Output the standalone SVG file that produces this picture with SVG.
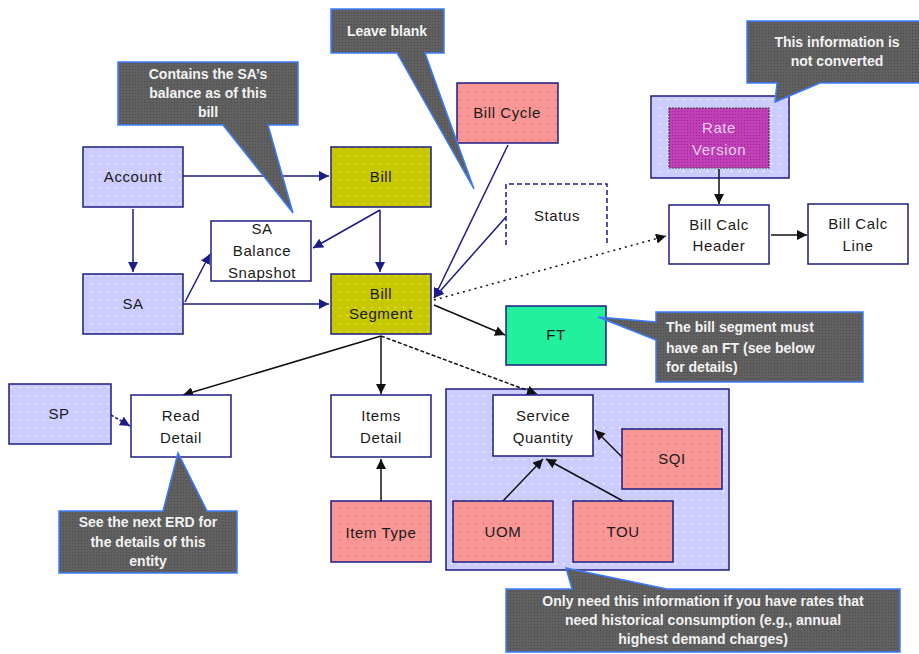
<svg xmlns="http://www.w3.org/2000/svg" width="919" height="654" viewBox="0 0 919 654">
<style>
.n{stroke:#1c1c84;stroke-width:1.5}
.lav{fill:url(#pLav)}
.olv{fill:url(#pOlv)}
.sal{fill:url(#pSal)}
.wht{fill:#ffffff}
.t{font-family:"Liberation Sans",Arial,sans-serif;font-size:15px;fill:#1a1a1a;text-anchor:middle;letter-spacing:0.6px}
.co{fill:url(#pCo);stroke:#3b7cff;stroke-width:1.5;stroke-linejoin:miter}
.ct{font-family:"Liberation Sans",Arial,sans-serif;font-size:14px;font-weight:bold;fill:#f2f2f2;text-anchor:middle}
.cn{fill:none;stroke-width:1.5}
.nv{stroke:#1c1c84}
.bk{stroke:#111111}
</style>
<defs>
<pattern id="pLav" width="8" height="8" patternUnits="userSpaceOnUse"><rect width="8" height="8" fill="#ccccff"/><rect x="3" y="3" width="1.3" height="1.3" fill="#ffffff"/></pattern>
<pattern id="pOlv" width="8" height="8" patternUnits="userSpaceOnUse"><rect width="8" height="8" fill="#c8c800"/><rect x="3" y="3" width="1.3" height="1.3" fill="#f0f060"/></pattern>
<pattern id="pSal" width="8" height="8" patternUnits="userSpaceOnUse"><rect width="8" height="8" fill="#f99797"/><rect x="3" y="3" width="1.3" height="1.3" fill="#e06a6a"/></pattern>
<pattern id="pCo" width="3" height="3" patternUnits="userSpaceOnUse"><rect width="3" height="3" fill="#606060"/><rect width="1" height="1" fill="#4a4a4a"/></pattern>
<pattern id="pMag" width="3" height="3" patternUnits="userSpaceOnUse"><rect width="3" height="3" fill="#c040b8"/><rect width="1" height="1" fill="#a02098"/></pattern>
<marker id="aN" viewBox="0 0 10 10" refX="10" refY="5" markerWidth="10" markerHeight="10" markerUnits="userSpaceOnUse" orient="auto"><path d="M0,0 L10,5 L0,10 z" fill="#1c1c84"/></marker>
<marker id="aB" viewBox="0 0 10 10" refX="10" refY="5" markerWidth="10" markerHeight="10" markerUnits="userSpaceOnUse" orient="auto"><path d="M0,0 L10,5 L0,10 z" fill="#111111"/></marker>
</defs>
<rect width="919" height="654" fill="#ffffff"/>

<!-- group containers -->
<g id="rate-version-group">
<rect x="651" y="96" width="138" height="82" class="n lav"/>
</g>
<g id="service-quantity-group">
<rect x="446" y="389" width="283" height="181" class="n lav"/>
</g>

<g id="connectors">
<path class="cn nv" d="M183,176 L329,176" marker-end="url(#aN)"/>
<path class="cn nv" d="M133,209 L133,272" marker-end="url(#aN)"/>
<path class="cn nv" d="M380,210 L313,248" marker-end="url(#aN)"/>
<path class="cn nv" d="M380,210 L380,272" marker-end="url(#aN)"/>
<path class="cn nv" d="M185,302 L210,254" marker-end="url(#aN)"/>
<path class="cn nv" d="M183,304 L329,304" marker-end="url(#aN)"/>
<path class="cn nv" d="M508,145 L434,298" marker-end="url(#aN)"/>
<path class="cn nv" d="M506,217 L434,298" marker-end="url(#aN)"/>
<path class="cn bk" d="M434,300 L666,236" stroke-dasharray="2,4" marker-end="url(#aB)"/>
<path class="cn bk" d="M434,305 L505,335" marker-end="url(#aB)"/>
<path class="cn bk" d="M381,336 L183,395" marker-end="url(#aB)"/>
<path class="cn bk" d="M381,336 L381,394" marker-end="url(#aB)"/>
<path class="cn bk" d="M381,336 L537,394" stroke-dasharray="4,2" marker-end="url(#aB)"/>
<path class="cn bk" d="M381,501 L381,459" marker-end="url(#aB)"/>
<path class="cn nv" d="M111,415 L130,426" stroke-dasharray="3,2" marker-end="url(#aN)"/>
<path class="cn bk" d="M719,169 L719,204" marker-end="url(#aB)"/>
<path class="cn bk" d="M771,235 L807,235" marker-end="url(#aB)"/>
<path class="cn bk" d="M622,457 L595,430" marker-end="url(#aB)"/>
<path class="cn bk" d="M503,501 L543,459" marker-end="url(#aB)"/>
<path class="cn bk" d="M623,501 L546,459" marker-end="url(#aB)"/>
</g>

<g id="account"><rect x="83" y="147" width="100" height="60" class="n lav"/><text class="t" x="133" y="182">Account</text></g>
<g id="bill"><rect x="331" y="147" width="100" height="60" class="n olv"/><text class="t" x="381" y="182">Bill</text></g>
<g id="sa-balance-snapshot"><rect x="211" y="221" width="100" height="60" class="n wht"/><text class="t" x="262" y="234">SA</text><text class="t" x="262" y="256">Balance</text><text class="t" x="262" y="278">Snapshot</text></g>
<g id="sa"><rect x="83" y="274" width="100" height="60" class="n lav"/><text class="t" x="133" y="309">SA</text></g>
<g id="bill-segment"><rect x="331" y="274" width="100" height="60" class="n olv"/><text class="t" x="381" y="299">Bill</text><text class="t" x="381" y="319">Segment</text></g>
<g id="bill-cycle"><rect x="457" y="83" width="101" height="60" class="n sal"/><text class="t" x="507" y="118" letter-spacing="0">Bill Cycle</text></g>
<g id="status"><path d="M506,245 L506,184 L607,184 L607,245" fill="#ffffff" stroke="#1c1c84" stroke-width="1.5" stroke-dasharray="5,3"/><text class="t" x="557" y="221">Status</text></g>
<g id="rate-version"><rect x="669" y="108" width="100" height="60" fill="url(#pMag)" stroke="#444444" stroke-width="1.2" stroke-dasharray="2,1"/><text class="t" x="719" y="133" fill="#e8c8e8" style="fill:#e8cce8">Rate</text><text class="t" x="719" y="155" style="fill:#e8cce8">Version</text></g>
<g id="bill-calc-header"><rect x="669" y="205" width="100" height="59" class="n wht"/><text class="t" x="719" y="230">Bill Calc</text><text class="t" x="719" y="251">Header</text></g>
<g id="bill-calc-line"><rect x="808" y="204" width="100" height="60" class="n wht"/><text class="t" x="858" y="229">Bill Calc</text><text class="t" x="858" y="251">Line</text></g>
<g id="ft"><rect x="506" y="306" width="100" height="59" class="n" fill="#22f09c"/><text class="t" x="556" y="340">FT</text></g>
<g id="sp"><rect x="9" y="384" width="102" height="60" class="n lav"/><text class="t" x="59" y="419">SP</text></g>
<g id="read-detail"><rect x="131" y="395" width="100" height="62" class="n wht"/><text class="t" x="181" y="421">Read</text><text class="t" x="181" y="443">Detail</text></g>
<g id="items-detail"><rect x="331" y="395" width="100" height="62" class="n wht"/><text class="t" x="381" y="421">Items</text><text class="t" x="381" y="443">Detail</text></g>
<g id="item-type"><rect x="331" y="501" width="100" height="61" class="n sal"/><text class="t" x="381" y="538" letter-spacing="0">Item Type</text></g>
<g id="service-quantity"><rect x="493" y="395" width="100" height="61" class="n wht"/><text class="t" x="543" y="421" letter-spacing="0">Service</text><text class="t" x="543" y="443" letter-spacing="0">Quantity</text></g>
<g id="sqi"><rect x="622" y="429" width="100" height="60" class="n sal"/><text class="t" x="672" y="464">SQI</text></g>
<g id="uom"><rect x="453" y="501" width="100" height="61" class="n sal"/><text class="t" x="503" y="537">UOM</text></g>
<g id="tou"><rect x="573" y="501" width="100" height="61" class="n sal"/><text class="t" x="623" y="537">TOU</text></g>

<g id="callout-leave-blank"><path class="co" d="M331,9 L444,9 L444,53 L425,53 L474,189 L397,53 L331,53 Z"/><text class="ct" x="387" y="36">Leave blank</text></g>
<g id="callout-sa-balance"><path class="co" d="M118,62 L298,62 L298,125 L268,125 L293,213 L223,125 L118,125 Z"/><text class="ct" x="208" y="79">Contains the SA’s</text><text class="ct" x="208" y="98">balance as of this</text><text class="ct" x="208" y="117">bill</text></g>
<g id="callout-not-converted"><path class="co" d="M747,21 L925,21 L925,83 L820,83 L775,102 L777,83 L747,83 Z"/><text class="ct" x="837" y="47">This information is</text><text class="ct" x="837" y="66">not converted</text></g>
<g id="callout-ft"><path class="co" d="M656,312 L863,312 L863,382 L656,382 L656,340 L598,317 L656,322 Z"/><text class="ct" x="666" y="332" text-anchor="start" style="text-anchor:start">The bill segment must</text><text class="ct" x="666" y="353" style="text-anchor:start">have an FT (see below</text><text class="ct" x="666" y="372" style="text-anchor:start">for details)</text></g>
<g id="callout-read-detail"><path class="co" d="M59,511 L163,511 L178,453 L207,511 L237,511 L237,573 L59,573 Z"/><text class="ct" x="148" y="527">See the next ERD for</text><text class="ct" x="148" y="547">the details of this</text><text class="ct" x="148" y="566">entity</text></g>
<g id="callout-history"><path class="co" d="M506,589 L572,589 L566,568 L667,589 L900,589 L900,652 L506,652 Z"/><text class="ct" x="703" y="606">Only need this information if you have rates that</text><text class="ct" x="703" y="625">need historical consumption (e.g., annual</text><text class="ct" x="703" y="644">highest demand charges)</text></g>
</svg>
